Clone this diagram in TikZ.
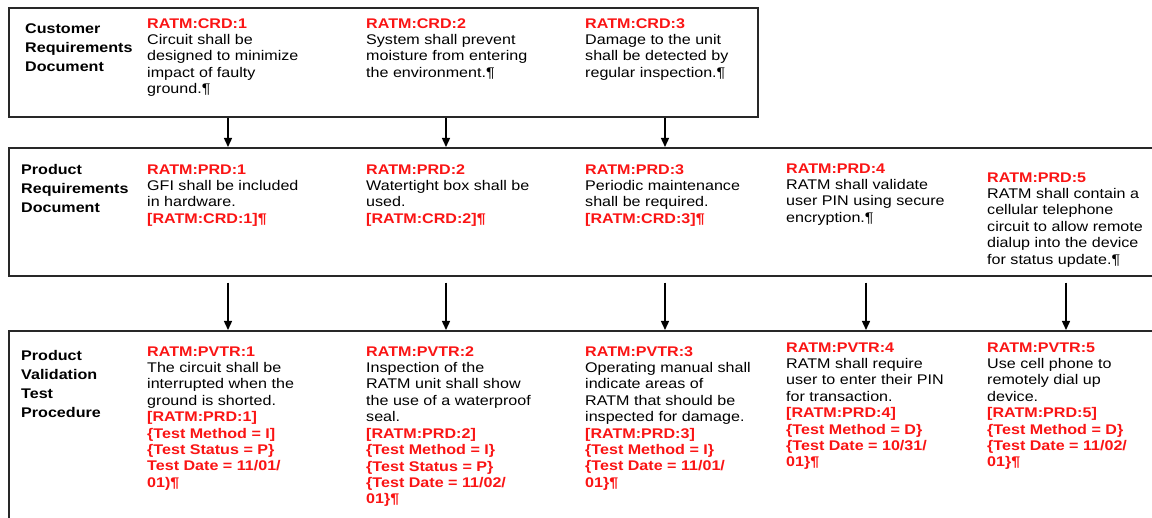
\documentclass[tikz,border=0pt]{standalone}
\usepackage{fontspec}
\setmainfont{Liberation Sans}[FakeStretch=1.15]
\usetikzlibrary{arrows.meta}
\definecolor{rq}{RGB}{250,20,20}
\definecolor{ln}{RGB}{40,40,40}
\newcommand{\rt}[1]{\textcolor{rq}{\bfseries #1}}
\newcommand{\myfl}{\rule{0pt}{11pt}}
\begin{document}
\begin{tikzpicture}[x=1pt,y=-1pt,
 box/.style={draw=ln, line width=1.6pt, inner sep=0pt, anchor=north west},
 lbl/.style={anchor=north west, inner sep=0pt, align=left, font=\fontsize{14}{19.2}\selectfont\bfseries},
 req/.style={anchor=north west, inner sep=0pt, align=left, font=\fontsize{14}{16.4}\selectfont},
 arr/.style={draw=black, line width=1.4pt, -{Triangle[width=8pt,length=9pt]}}]
\useasboundingbox (0,0) rectangle (1152,518);
\clip (0,0) rectangle (1152,518);
% boxes
\node[box, minimum width=749pt, minimum height=109pt] (crd) at (8,7) {};
\node[box, minimum width=1160pt, minimum height=128pt] (prd) at (8,147) {};
\node[box, minimum width=1160pt, minimum height=200pt] (pvtr) at (8,330) {};
% arrow columns
\coordinate (c1) at (228,0);
\coordinate (c2) at (446,0);
\coordinate (c3) at (665,0);
\coordinate (c4) at (866,0);
\coordinate (c5) at (1066,0);
% labels
\node[lbl] (l1) at (25,22) {\myfl Customer\\Requirements\\Document};
\node[lbl] (l2) at (21,163) {\myfl Product\\Requirements\\Document};
\node[lbl] (l3) at (21,349) {\myfl Product\\Validation\\Test\\Procedure};
% CRD
\node[req] (crd1) at (147,17) {\myfl\rt{RATM:CRD:1}\\Circuit shall be\\designed to minimize\\impact of faulty\\ground.¶};
\node[req] (crd2) at (366,17) {\myfl\rt{RATM:CRD:2}\\System shall prevent\\moisture from entering\\the environment.¶};
\node[req] (crd3) at (585,17) {\myfl\rt{RATM:CRD:3}\\Damage to the unit\\shall be detected by\\regular inspection.¶};
% PRD
\node[req] (prd1) at (147,163) {\myfl\rt{RATM:PRD:1}\\GFI shall be included\\in hardware.\\\rt{[RATM:CRD:1]¶}};
\node[req] (prd2) at (366,163) {\myfl\rt{RATM:PRD:2}\\Watertight box shall be\\used.\\\rt{[RATM:CRD:2]¶}};
\node[req] (prd3) at (585,163) {\myfl\rt{RATM:PRD:3}\\Periodic maintenance\\shall be required.\\\rt{[RATM:CRD:3]¶}};
\node[req] (prd4) at (786,162) {\myfl\rt{RATM:PRD:4}\\RATM shall validate\\user PIN using secure\\encryption.¶};
\node[req] (prd5) at (987,171) {\myfl\rt{RATM:PRD:5}\\RATM shall contain a\\cellular telephone\\circuit to allow remote\\dialup into the device\\for status update.¶};
% PVTR
\node[req] (v1) at (147,345) {\myfl\rt{RATM:PVTR:1}\\The circuit shall be\\interrupted when the\\ground is shorted.\\\rt{[RATM:PRD:1]}\\\rt{\{Test Method = I]}\\\rt{\{Test Status = P\}}\\\rt{Test Date = 11/01/}\\\rt{01)¶}};
\node[req] (v2) at (366,345) {\myfl\rt{RATM:PVTR:2}\\Inspection of the\\RATM unit shall show\\the use of a waterproof\\seal.\\\rt{[RATM:PRD:2]}\\\rt{\{Test Method = I\}}\\\rt{\{Test Status = P\}}\\\rt{\{Test Date = 11/02/}\\\rt{01\}¶}};
\node[req] (v3) at (585,345) {\myfl\rt{RATM:PVTR:3}\\Operating manual shall\\indicate areas of\\RATM that should be\\inspected for damage.\\\rt{[RATM:PRD:3]}\\\rt{\{Test Method = I\}}\\\rt{\{Test Date = 11/01/}\\\rt{01\}¶}};
\node[req] (v4) at (786,341) {\myfl\rt{RATM:PVTR:4}\\RATM shall require\\user to enter their PIN\\for transaction.\\\rt{[RATM:PRD:4]}\\\rt{\{Test Method = D\}}\\\rt{\{Test Date = 10/31/}\\\rt{01\}¶}};
\node[req] (v5) at (987,341) {\myfl\rt{RATM:PVTR:5}\\Use cell phone to\\remotely dial up\\device.\\\rt{[RATM:PRD:5]}\\\rt{\{Test Method = D\}}\\\rt{\{Test Date = 11/02/}\\\rt{01\}¶}};
% arrows
\foreach \c in {c1,c2,c3}
  \draw[arr] (\c |- crd.south) -- (\c |- prd.north);
\foreach \c in {c1,c2,c3,c4,c5}
  \draw[arr, shorten <=6pt] (\c |- prd.south) -- (\c |- pvtr.north);
\end{tikzpicture}
\end{document}
